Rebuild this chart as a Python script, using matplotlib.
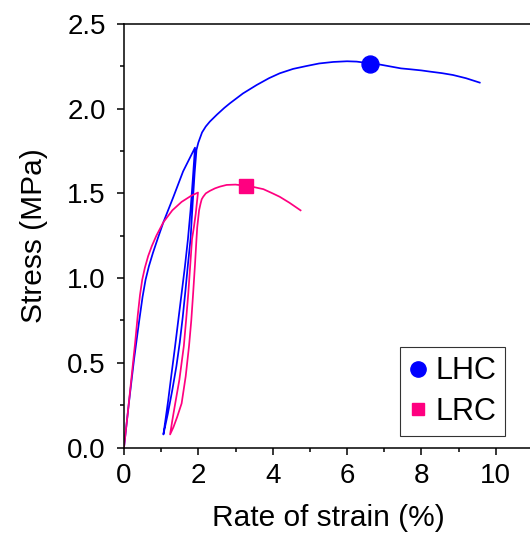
import matplotlib
matplotlib.use("Agg")
import matplotlib.pyplot as plt
from matplotlib.lines import Line2D
from matplotlib.ticker import MultipleLocator

# ---- data ----
lhc_strain = [0, 0.13, 0.27, 0.41, 0.50, 0.58, 0.67, 0.78, 0.91, 1.06, 1.33, 1.59, 1.91,
              1.85, 1.79, 1.72, 1.64, 1.55, 1.46, 1.37, 1.27, 1.19, 1.12, 1.06,
              1.18, 1.30, 1.41, 1.50, 1.58, 1.65, 1.72, 1.79, 1.85, 1.90, 1.95,
              2.0, 2.1, 2.2, 2.31, 2.5, 2.7, 2.85, 3.2, 3.57, 3.9, 4.19, 4.55, 4.91,
              5.25, 5.63, 6.0, 6.26, 6.61, 6.9, 7.2, 7.45, 7.69, 8.0, 8.23, 8.55,
              8.85, 9.2, 9.57]
lhc_stress = [0, 0.26, 0.52, 0.75, 0.89, 0.99, 1.07, 1.15, 1.235, 1.33, 1.48, 1.63, 1.77,
              1.58, 1.40, 1.23, 1.07, 0.91, 0.75, 0.59, 0.42, 0.28, 0.17, 0.077,
              0.20, 0.34, 0.48, 0.62, 0.77, 0.92, 1.08, 1.23, 1.45, 1.62, 1.757,
              1.80, 1.86, 1.895, 1.924, 1.965, 2.005, 2.032, 2.09, 2.14, 2.18, 2.209,
              2.235, 2.252, 2.267, 2.276, 2.28, 2.278, 2.268, 2.26, 2.248, 2.238,
              2.233, 2.226, 2.219, 2.21, 2.199, 2.18, 2.154]

lrc_strain = [0, 0.10, 0.20, 0.30, 0.37, 0.43, 0.49, 0.56, 0.65, 0.75, 0.87, 1.06,
              1.30, 1.55, 1.80, 1.99,
              1.93, 1.88, 1.83, 1.78, 1.73, 1.67, 1.61, 1.49, 1.37, 1.30, 1.24,
              1.33, 1.43, 1.55, 1.66, 1.75, 1.81, 1.86, 1.91, 1.95, 1.97, 2.0, 2.02,
              2.06, 2.09, 2.13, 2.2, 2.31, 2.45, 2.58, 2.76, 3.0, 3.28, 3.5, 3.75,
              4.0, 4.19, 4.45, 4.75]
lrc_stress = [0, 0.20, 0.41, 0.62, 0.78, 0.90, 0.99, 1.06, 1.13, 1.19, 1.25, 1.33,
              1.40, 1.45, 1.485, 1.505,
              1.38, 1.30, 1.23, 1.07, 0.91, 0.75, 0.60, 0.40, 0.25, 0.16, 0.077,
              0.12, 0.18, 0.26, 0.42, 0.60, 0.75, 0.91, 1.08, 1.23, 1.30, 1.36, 1.40,
              1.44, 1.465, 1.48, 1.50, 1.515, 1.53, 1.54, 1.55, 1.552, 1.545, 1.537,
              1.525, 1.50, 1.48, 1.445, 1.40]

lhc_marker = (6.61, 2.265)
lrc_marker = (3.28, 1.545)

series_names = ["LHC", "LRC"]
colors = ["#0000FF", "#FF0080"]

x_ticks = [0, 2, 4, 6, 8, 10]
y_ticks = [0.0, 0.5, 1.0, 1.5, 2.0, 2.5]

plt.rcParams["font.family"] = ["Liberation Sans", "DejaVu Sans"]

fig = plt.figure(figsize=(5.30, 5.38), dpi=100)
ax = fig.add_axes([124 / 530, 90.5 / 538, 11 * 37.17 / 530, 423.5 / 538])

lw = 1.25
ax.plot(lhc_strain, lhc_stress, color=colors[0], lw=lw)
ax.plot(lrc_strain, lrc_stress, color=colors[1], lw=lw)
ax.plot([lhc_marker[0]], [lhc_marker[1]], "o", color=colors[0], ms=12.2, mec=colors[0])
ax.plot([lrc_marker[0]], [lrc_marker[1]], "s", color=colors[1], ms=10.5, mec=colors[1])

ax.set_xlim(0, 11)
ax.set_ylim(0, 2.5)
ax.set_xticks(x_ticks)
ax.set_yticks(y_ticks)
ax.set_yticklabels([f"{v:.1f}" for v in y_ticks])
ax.xaxis.set_minor_locator(MultipleLocator(1))
ax.yaxis.set_minor_locator(MultipleLocator(0.25))

for s in ["left", "bottom", "top"]:
    ax.spines[s].set_linewidth(1.1)
ax.spines["right"].set_visible(False)
ax.tick_params(which="major", direction="out", length=5, width=1.1,
               labelsize=20, top=False, right=False)
ax.tick_params(which="minor", direction="out", length=3, width=1.1,
               top=False, right=False)
ax.tick_params(axis="y", which="major", pad=8)
ax.tick_params(axis="x", which="major", pad=6)

ax.set_xlabel("Rate of strain (%)", fontsize=21.5, labelpad=11)
ax.set_ylabel("Stress (MPa)", fontsize=21.5, labelpad=14)

handles = [Line2D([], [], ls="none", marker="o", color=colors[0], ms=11),
           Line2D([], [], ls="none", marker="s", color=colors[1], ms=8.6)]
leg = ax.legend(handles, series_names, loc="lower right",
                bbox_to_anchor=(0.932, 0.027), borderaxespad=0,
                fontsize=22, frameon=True, fancybox=False,
                edgecolor="black", handlelength=0.6, handletextpad=0.25,
                borderpad=0.3, labelspacing=0.35)
leg.get_frame().set_linewidth(0.8)

fig.savefig("out.png", dpi=100)
